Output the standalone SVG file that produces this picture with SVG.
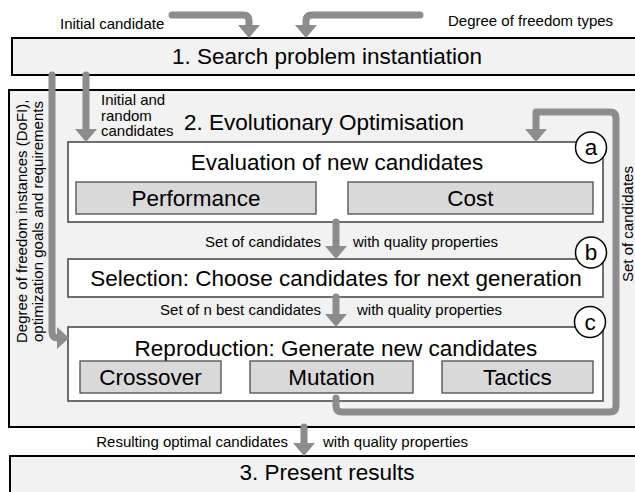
<svg xmlns="http://www.w3.org/2000/svg" width="635" height="492" viewBox="0 0 635 492">
<style>
text{font-family:"Liberation Sans",Arial,sans-serif;fill:#000}
.big{font-size:22.5px}
.sm{font-size:15px}
.outer{fill:#f2f2f2;stroke:#000;stroke-width:2}
.inner{fill:#fff;stroke:#404040;stroke-width:1.5}
.sub{fill:#d9d9d9;stroke:#404040;stroke-width:1.2}
.circ{fill:#fff;stroke:#000;stroke-width:1.5}
.ln{fill:none;stroke:#8c8c8c;stroke-width:7;stroke-linecap:round;stroke-linejoin:round}
.hd{fill:#8c8c8c}
</style>
<rect width="635" height="492" fill="#fff"/>
<g id="box1">
<rect class="outer" x="12" y="38" width="630" height="37"/>
<text class="big" x="327" y="64" text-anchor="middle">1. Search problem instantiation</text>
</g>
<g id="box2">
<rect class="outer" x="9" y="90" width="633" height="337"/>
<text class="big" x="184" y="130">2. Evolutionary Optimisation</text>
</g>
<g id="box3">
<rect class="outer" x="10" y="456" width="632" height="45"/>
<text class="big" x="327" y="480" text-anchor="middle">3. Present results</text>
</g>
<g id="nodeA">
<rect class="inner" x="68" y="142" width="535" height="80"/>
<text class="big" x="337" y="170" text-anchor="middle">Evaluation of new candidates</text>
<rect class="sub" x="76" y="182" width="240" height="32"/>
<text class="big" x="196" y="206" text-anchor="middle">Performance</text>
<rect class="sub" x="348" y="182" width="245" height="32"/>
<text class="big" x="470.5" y="206" text-anchor="middle">Cost</text>
<circle class="circ" cx="591" cy="147.5" r="15.5"/>
<text class="big" x="591" y="155" text-anchor="middle">a</text>
</g>
<g id="nodeB">
<rect class="inner" x="68" y="259" width="535" height="38"/>
<text class="big" x="336" y="286" text-anchor="middle">Selection: Choose candidates for next generation</text>
<circle class="circ" cx="591" cy="252.5" r="15.5"/>
<text class="big" x="591" y="260" text-anchor="middle">b</text>
</g>
<g id="nodeC">
<rect class="inner" x="68" y="327" width="535" height="74"/>
<text class="big" x="336" y="356" text-anchor="middle">Reproduction: Generate new candidates</text>
<rect class="sub" x="80" y="361" width="141" height="32"/>
<text class="big" x="150.5" y="385" text-anchor="middle">Crossover</text>
<rect class="sub" x="250" y="361" width="163" height="32"/>
<text class="big" x="331.5" y="385" text-anchor="middle">Mutation</text>
<rect class="sub" x="442" y="361" width="151" height="32"/>
<text class="big" x="517.5" y="385" text-anchor="middle">Tactics</text>
<circle class="circ" cx="590" cy="322" r="15.5"/>
<text class="big" x="590" y="329.5" text-anchor="middle">c</text>
</g>
<g id="connectors">
<path class="ln" d="M172,15 H243 Q249,15 249,21 V26"/>
<polygon class="hd" points="238,25 260,25 249,38"/>
<path class="ln" d="M420,15 H312 Q306,15 306,21 V26"/>
<polygon class="hd" points="295,25 317,25 306,38"/>
<path class="ln" d="M52,75 V332 Q52,338 58,338 H59"/>
<polygon class="hd" points="57,327 57,349 69,338"/>
<path class="ln" d="M86,75 V130"/>
<polygon class="hd" points="75,129 97,129 86,142"/>
<path class="ln" d="M336,222 V247"/>
<polygon class="hd" points="325,246 347,246 336,259"/>
<path class="ln" d="M336,297 V315"/>
<polygon class="hd" points="325,314 347,314 336,327"/>
<path class="ln" d="M304,427 V444"/>
<polygon class="hd" points="293,443 315,443 304,456"/>
<path class="ln" d="M336,398 V406 Q336,412 342,412 H610 Q616,412 616,406 V118 Q616,112 610,112 H536 V130"/>
<polygon class="hd" points="525,129 547,129 536,142"/>
<text class="sm" x="60" y="29">Initial candidate</text>
<text class="sm" x="448" y="26">Degree of freedom types</text>
<text class="sm" x="101" y="105">Initial and</text>
<text class="sm" x="101" y="120.5">random</text>
<text class="sm" x="101" y="136">candidates</text>
<text class="sm" x="321" y="247" text-anchor="end">Set of candidates</text>
<text class="sm" x="353" y="247">with quality properties</text>
<text class="sm" x="321" y="315" text-anchor="end">Set of n best candidates</text>
<text class="sm" x="357" y="315">with quality properties</text>
<text class="sm" x="288" y="447" text-anchor="end">Resulting optimal candidates</text>
<text class="sm" x="323" y="447">with quality properties</text>
<text class="sm" transform="translate(27,343) rotate(-90)">Degree of freedom instances (DoFI),</text>
<text class="sm" transform="translate(43,342) rotate(-90)">optimization goals and requirements</text>
<text class="sm" transform="translate(633,282) rotate(-90)">Set of candidates</text>
</g>
</svg>
